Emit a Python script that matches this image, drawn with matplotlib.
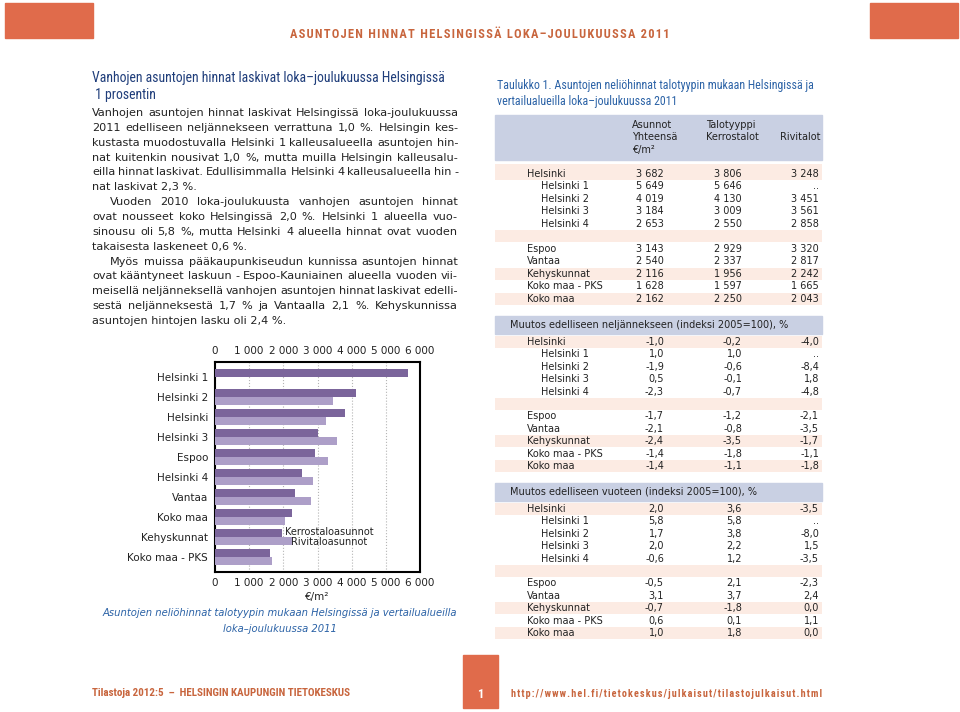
import matplotlib
matplotlib.use("Agg")
import matplotlib.pyplot as plt
from matplotlib.patches import Rectangle
from matplotlib.ticker import FuncFormatter, MultipleLocator
from matplotlib import font_manager

# --- data -------------------------------------------------------------
areas = ['Helsinki', 'Helsinki 1', 'Helsinki 2', 'Helsinki 3', 'Helsinki 4',
         'Espoo', 'Vantaa', 'Kehyskunnat', 'Koko maa - PKS', 'Koko maa']
sub_areas = ['Helsinki 1', 'Helsinki 2', 'Helsinki 3', 'Helsinki 4']

price_total = [3682, 5649, 4019, 3184, 2653, 3143, 2540, 2116, 1628, 2162]
price_kerros = [3806, 5646, 4130, 3009, 2550, 2929, 2337, 1956, 1597, 2250]
price_rivi = [3248, None, 3451, 3561, 2858, 3320, 2817, 2242, 1665, 2043]

q_total = [-1.0, 1.0, -1.9, 0.5, -2.3, -1.7, -2.1, -2.4, -1.4, -1.4]
q_kerros = [-0.2, 1.0, -0.6, -0.1, -0.7, -1.2, -0.8, -3.5, -1.8, -1.1]
q_rivi = [-4.0, None, -8.4, 1.8, -4.8, -2.1, -3.5, -1.7, -1.1, -1.8]

yr_total = [2.0, 5.8, 1.7, 2.0, -0.6, -0.5, 3.1, -0.7, 0.6, 1.0]
yr_kerros = [3.6, 5.8, 3.8, 2.2, 1.2, 2.1, 3.7, -1.8, 0.1, 1.8]
yr_rivi = [-3.5, None, -8.0, 1.5, -3.5, -2.3, 2.4, 0.0, 1.1, 0.0]

chart_order = ['Helsinki 1', 'Helsinki 2', 'Helsinki', 'Helsinki 3', 'Espoo',
               'Helsinki 4', 'Vantaa', 'Koko maa', 'Kehyskunnat', 'Koko maa - PKS']
series_names = ['Kerrostaloasunnot', 'Rivitaloasunnot']

paragraphs = [
    ["Vanhojen asuntojen hinnat laskivat Helsingissä loka-joulukuussa",
     "2011 edelliseen neljännekseen verrattuna 1,0 %. Helsingin kes-",
     "kustasta muodostuvalla Helsinki 1 kalleusalueella asuntojen hin-",
     "nat kuitenkin nousivat 1,0 %, mutta muilla Helsingin kalleusalu-",
     "eilla hinnat laskivat. Edullisimmalla Helsinki 4 kalleusalueella hin -",
     "nat laskivat 2,3 %."],
    ["Vuoden 2010 loka-joulukuusta vanhojen asuntojen hinnat",
     "ovat nousseet koko Helsingissä 2,0 %. Helsinki 1 alueella vuo-",
     "sinousu oli 5,8 %, mutta Helsinki 4 alueella hinnat ovat vuoden",
     "takaisesta laskeneet 0,6 %."],
    ["Myös muissa pääkaupunkiseudun kunnissa asuntojen hinnat",
     "ovat kääntyneet laskuun - Espoo-Kauniainen alueella vuoden vii-",
     "meisellä neljänneksellä vanhojen asuntojen hinnat laskivat edelli-",
     "sestä neljänneksestä 1,7 % ja Vantaalla 2,1 %. Kehyskunnissa",
     "asuntojen hintojen lasku oli 2,4 %."],
]

# --- styles -----------------------------------------------------------
ORANGE = '#e06b4b'
ORANGE_TXT = '#c8653d'
NAVY = '#1f3d7a'
BLUE = '#2b62a6'
DARK = '#7b659b'
LIGHT = '#ad9fc8'
HEAD_BG = '#c9d0e3'
PINK = '#fcebe3'
INK = '#222222'

# pick a narrow face for the headings if one is installed
fonts = font_manager.fontManager.ttflist
names = {f.name for f in fonts}
NARROW = dict(family='Liberation Sans')
for cand in ['Liberation Sans Narrow', 'Roboto Condensed', 'Open Sans Condensed',
             'Noto Sans Condensed', 'DejaVu Sans Condensed']:
    if cand in names:
        NARROW = dict(family=cand)
        break
else:
    for f in fonts:
        if f.stretch in ('condensed', 'semi-condensed', 'extra-condensed') and f.style == 'normal':
            NARROW = dict(family=f.name, fontstretch=f.stretch)
            break
BODY = 'DejaVu Sans'

fig = plt.figure(figsize=(9.6, 7.12), dpi=100)
page = fig.add_axes([0, 0, 1, 1])
page.set_xlim(0, 960)
page.set_ylim(712, 0)
page.axis('off')
renderer = fig.canvas.get_renderer()


def width_of(t):
    return t.get_window_extent(renderer).width


def fit_text(x, y, s, width, size=10, **kw):
    t = page.text(x, y, s, fontsize=size, **kw)
    new = size * width / width_of(t)
    t.set_fontsize(new)
    return new


def tracked(s):
    # letter spacing with hair spaces
    return '\u200a'.join(s)


def justify(x0, x1, y, s, size, **kw):
    words = s.split(' ')
    ts = [page.text(0, y, w, va='center', fontsize=size, **kw) for w in words]
    ws = [width_of(t) for t in ts]
    gap = (x1 - x0 - sum(ws)) / max(len(words) - 1, 1)
    if gap < 1.5:
        k = (x1 - x0 - 1.5 * (len(words) - 1)) / sum(ws)
        for t in ts:
            t.set_fontsize(size * k)
        ws = [w * k for w in ws]
        gap = 1.5
    x = x0
    for t, w in zip(ts, ws):
        t.set_x(x)
        x += w + gap


def fmt_int(v):
    return '..' if v is None else f"{v:,}".replace(',', ' ')


def fmt_dec(v):
    return '..' if v is None else f"{v:.1f}".replace('.', ',')


# --- header / footer ---------------------------------------------------
page.add_patch(Rectangle((5, 3), 88, 35, color=ORANGE))
page.add_patch(Rectangle((870, 3), 88, 35, color=ORANGE))
fit_text(480, 35, tracked("ASUNTOJEN HINNAT HELSINGISSÄ LOKA–JOULUKUUSSA 2011"),
         385, size=9, color=ORANGE_TXT, ha='center', va='center', weight='bold', **NARROW)

page.add_patch(Rectangle((463, 655), 35, 53, color=ORANGE))
page.text(480.5, 694, "1", color='white', fontsize=9, weight='bold',
          ha='center', va='center', **NARROW)
fit_text(92, 693, "Tilastoja 2012:5  –  HELSINGIN KAUPUNGIN TIETOKESKUS", 260,
         weight='bold', color=ORANGE_TXT, va='center', **NARROW)
fit_text(511, 694, tracked("http://www.hel.fi/tietokeskus/julkaisut/tilastojulkaisut.html"), 311,
         weight='bold', color=ORANGE_TXT, va='center', **NARROW)

# --- left text column ---------------------------------------------------
ts = fit_text(92, 78, "Vanhojen asuntojen hinnat laskivat loka–joulukuussa Helsingissä", 355,
              color=NAVY, va='center', **NARROW)
page.text(92, 95, " 1 prosentin", fontsize=ts, color=NAVY, va='center', **NARROW)

BODY_SIZE = 8.1
line = 0
for para in paragraphs:
    for i, s in enumerate(para):
        y = 113 + line * 14.86
        x0 = 92 if (i > 0 or para is paragraphs[0]) else 110
        if i == len(para) - 1:
            page.text(x0, y, s, fontsize=BODY_SIZE, family=BODY, color=INK, va='center')
        else:
            justify(x0, 458, y, s, BODY_SIZE, family=BODY, color=INK)
        line += 1

# --- bar chart -----------------------------------------------------------
ax = fig.add_axes([215 / 960, (712 - 572) / 712, 205 / 960, 210 / 712])
idx = {a: i for i, a in enumerate(areas)}
kerros_vals = [price_kerros[idx[a]] for a in chart_order]
rivi_vals = [price_rivi[idx[a]] or 0 for a in chart_order]
pos = list(range(len(chart_order)))
ax.barh([p - 0.2 for p in pos], kerros_vals, height=0.4, color=DARK, zorder=3)
ax.barh([p + 0.2 for p in pos], rivi_vals, height=0.4, color=LIGHT, zorder=3)
ax.set_xlim(0, 6000)
ax.set_ylim(len(chart_order) - 0.25, -0.75)
ax.set_yticks(pos)
ax.set_yticklabels(chart_order)
ax.xaxis.set_major_locator(MultipleLocator(1000))
ax.xaxis.set_major_formatter(FuncFormatter(lambda v, p: f"{int(v):,}".replace(',', ' ')))
ax.tick_params(axis='x', top=True, labeltop=True, bottom=True, labelbottom=True,
               length=0, pad=4, labelsize=7.5, labelcolor=INK)
ax.tick_params(axis='y', length=0, pad=5, labelsize=7.5, labelcolor=INK)
ax.grid(axis='x', linestyle=':', color='#b5b5b5', linewidth=0.8, zorder=0)
for sp in ax.spines.values():
    sp.set_linewidth(1.5)
    sp.set_color('black')
ax.set_xlabel("€/m²", fontsize=7.5, labelpad=3, color=INK)
ax.text(3340, 7.75, series_names[0], fontsize=7, ha='center', va='center', color=INK)
ax.text(3340, 8.25, series_names[1], fontsize=7, ha='center', va='center', color=INK)

cap_kw = dict(fontsize=7.2, style='italic', color=BLUE, ha='center', va='center', family=BODY)
page.text(280, 613, "Asuntojen neliöhinnat talotyypin mukaan Helsingissä ja vertailualueilla", **cap_kw)
page.text(280, 629, "loka–joulukuussa 2011", **cap_kw)

# --- right tables ----------------------------------------------------------
ts = fit_text(497, 86, "Taulukko 1. Asuntojen neliöhinnat talotyypin mukaan Helsingissä ja", 315,
              color=BLUE, va='center', **NARROW)
page.text(497, 101, "vertailualueilla loka–joulukuussa 2011", fontsize=ts,
          color=BLUE, va='center', **NARROW)

TX = dict(fontsize=7, family=BODY, color=INK, va='center')
page.add_patch(Rectangle((495, 115), 327, 45, color=HEAD_BG))
page.text(632, 125, "Asunnot", **TX)
page.text(632, 137.5, "Yhteensä", **TX)
page.text(632, 150, "€/m²", **TX)
page.text(706, 125, "Talotyyppi", **TX)
page.text(706, 137.5, "Kerrostalot", **TX)
page.text(780, 137.5, "Rivitalot", **TX)

col_x = [664, 742, 819]


def draw_rows(y0, step, cols, fmt, first_band_top=None):
    slots = list(range(5)) + list(range(6, 11))
    for band in [0, 5, 8, 10]:
        top = y0 + band * step - 6
        h = 12
        if band == 0 and first_band_top is not None:
            h += top - first_band_top
            top = first_band_top
        page.add_patch(Rectangle((495, top), 327, h, color=PINK, lw=0))
    for k, area in enumerate(areas):
        y = y0 + slots[k] * step
        page.text(541 if area in sub_areas else 527, y, area, **TX)
        for cx, col in zip(col_x, cols):
            page.text(cx, y, fmt(col[k]), ha='right', **TX)


draw_rows(174, 12.45, [price_total, price_kerros, price_rivi], fmt_int, first_band_top=164)

page.add_patch(Rectangle((495, 316), 327, 18, color=HEAD_BG))
page.text(510, 325, "Muutos edelliseen neljännekseen (indeksi 2005=100), %", **TX)
draw_rows(342, 12.4, [q_total, q_kerros, q_rivi], fmt_dec)

page.add_patch(Rectangle((495, 483), 327, 18, color=HEAD_BG))
page.text(510, 492, "Muutos edelliseen vuoteen (indeksi 2005=100), %", **TX)
draw_rows(509, 12.4, [yr_total, yr_kerros, yr_rivi], fmt_dec)

fig.savefig("out.png", dpi=100)
